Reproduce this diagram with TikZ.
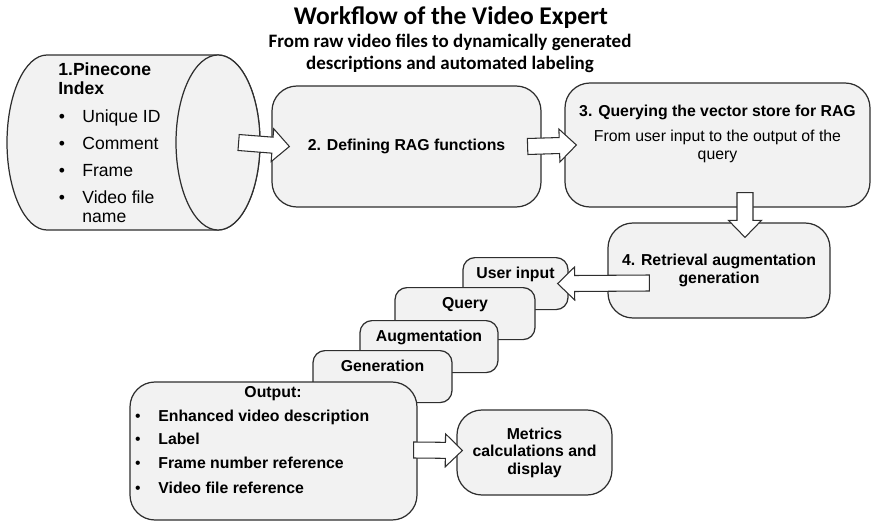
\documentclass[tikz,border=0pt]{standalone}
\usepackage{fontspec}
\setmainfont{Liberation Sans}
\newfontfamily\titlefont{Carlito}
\usetikzlibrary{calc, positioning, shapes.geometric}

\definecolor{boxgray}{HTML}{F2F2F2}
\definecolor{edgegray}{HTML}{2E2E2E}

% tyk blokpil fra #1 til spidsen #2
\newcommand{\fatarrow}[2]{%
  \path (#1) coordinate (fa0) (#2) coordinate (fa1);
  \coordinate (fah) at ($(fa1)!3.4mm!(fa0)$);
  \draw[fat] ($(fa0)!1.6mm!90:(fa1)$) -- ($(fah)!1.6mm!90:(fa1)$)
    -- ($(fah)!3.3mm!90:(fa1)$) -- (fa1) -- ($(fah)!3.3mm!-90:(fa1)$)
    -- ($(fah)!1.6mm!-90:(fa1)$) -- ($(fa0)!1.6mm!-90:(fa1)$) -- cycle;
}

\begin{document}
\begin{tikzpicture}[
    x=0.2mm, y=-0.2mm,
    box/.style={draw=edgegray, fill=boxgray, line width=0.7pt, rounded corners=5mm, align=center, font=\bfseries\fontsize{9}{10}\selectfont},
    stk/.style={box, rounded corners=2.4mm, anchor=north, inner ysep=1.8mm, text height=2.4mm, text depth=4.4mm},
    fat/.style={draw=edgegray, fill=white, line width=0.6pt},
    cyl/.style={draw=edgegray, fill=boxgray, line width=0.7pt},
    itm/.style={anchor=base west, inner sep=0pt, font=\fontsize{10}{12}\selectfont},
    bul/.style={anchor=base, inner sep=0pt, font=\fontsize{10}{12}\selectfont},
    oitm/.style={itm, font=\bfseries\fontsize{9}{11}\selectfont},
    obul/.style={bul, font=\fontsize{9}{11}\selectfont}
]

\useasboundingbox (0,0) rectangle (878,526);

% overskrift
\node[font=\titlefont\bfseries\fontsize{14.5}{16}\selectfont, anchor=base] (title) at (451,25) {Workflow of the Video Expert};
\node[font=\titlefont\bfseries\fontsize{10.8}{12.5}\selectfont, align=center, anchor=north, inner sep=0pt] (subtitle) at (450,34)
{From raw video files to dynamically generated\\descriptions and automated labeling};

% pinecone-cylinder (krop + endeflade)
\draw[cyl] (47,55) -- (218,55) arc[start angle=-90, end angle=90, x radius=42, y radius=87.5]
    -- (47,230) arc[start angle=90, end angle=270, x radius=40, y radius=87.5] -- cycle;
\node[ellipse, cyl, inner sep=0pt, minimum width=16.8mm, minimum height=35mm] (pine) at (218,142.5) {};
\node[itm, font=\bfseries\fontsize{10}{12}\selectfont] (pinet1) at (58,76) {1.Pinecone};
\node[itm, font=\bfseries\fontsize{10}{12}\selectfont] (pinet2) at (58,94) {Index};
\foreach \yy/\txt [count=\i] in {122/Unique ID, 149/Comment, 176/Frame, 203/Video file} {
    \node[bul] (pb\i) at (62,\yy) {\textbullet};
    \node[itm] (pi\i) at (82,\yy) {\txt};
}
\node[itm] (pi5) at (82,222) {name};

% hovedbokse
\node[box, minimum width=53.8mm, minimum height=24.2mm] (def) at (406.5,146.5) {2. Defining RAG functions};
\node[box, minimum width=61mm, minimum height=24.8mm] (qry) at (717.5,145) {};
\node[align=center, anchor=north, inner sep=0pt, font=\fontsize{9}{10.2}\selectfont] (qrytxt) at (717.5,105)
{\textbf{3. Querying the vector store for RAG}\\[1.4mm]From user input to the output of the\\query};
\node[box, minimum width=44.4mm, minimum height=19mm] (rag) at (719,270.5) {4. Retrieval augmentation\\generation};

% trappen af trin
\node[stk, minimum width=21mm] (uin) at (515.5,257) {User input};
\node[stk, minimum width=28mm] (que) at (465,287) {Query};
\node[stk, minimum width=27.6mm] (aug) at (429,320) {Augmentation};
\node[stk, minimum width=27.8mm] (gen) at (382.5,350) {Generation};

% output
\node[box, minimum width=57.4mm, minimum height=27.6mm] (out) at (273.5,451) {};
\node[oitm, anchor=base] (outt) at (273,397.5) {Output:};
\foreach \yy/\txt [count=\i] in {421/Enhanced video description, 444/Label, 468/Frame number reference, 493/Video file reference} {
    \node[obul] (ob\i) at (138,\yy) {\textbullet};
    \node[oitm] (oi\i) at (158,\yy) {\txt};
}
\node[box, minimum width=31mm, minimum height=17mm] (met) at (534.5,452.5) {Metrics\\calculations and\\display};

% blokpile
\fatarrow{$(pine.east)+(-22,0)$}{$(def.west)+(18,0)$}
\fatarrow{$(def.east)+(-14,0)$}{$(qry.west)+(12,0)$}
\fatarrow{$(qry.south)+(27.5,-15)$}{$(rag.north)+(26,15)$}
\fatarrow{$(rag.west)+(42,12.5)$}{$(uin.east)+(-11,0)$}
\fatarrow{$(out.east)+(-4,-1)$}{$(met.west)+(6,-2)$}

\end{tikzpicture}
\end{document}
